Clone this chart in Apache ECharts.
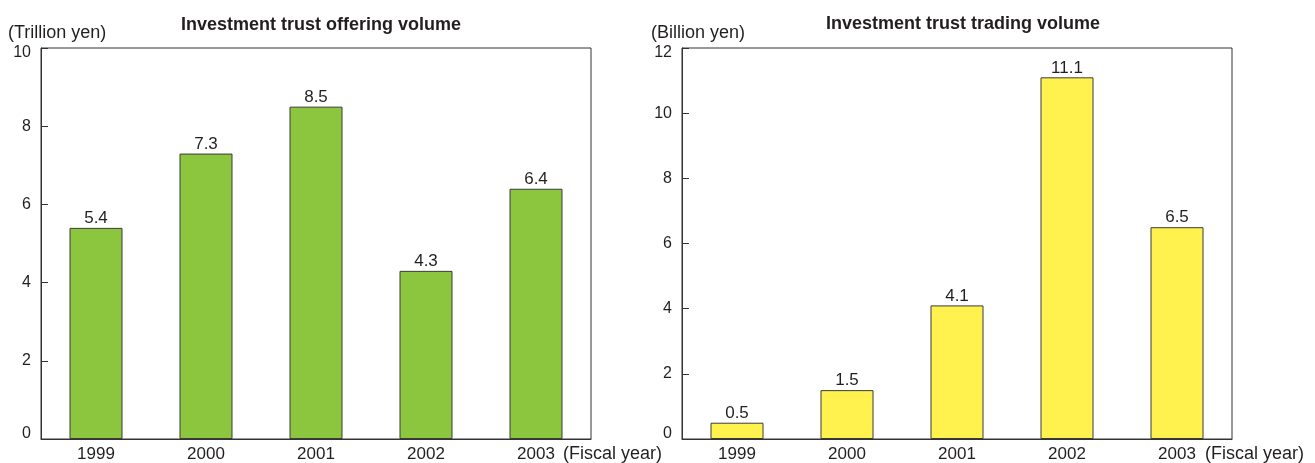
<!DOCTYPE html>
<html>
<head>
<meta charset="utf-8">
<script src="https://cdn.jsdelivr.net/npm/echarts@6/dist/echarts.min.js"></script>
<style>
  html, body { margin: 0; padding: 0; background: #fff; }
  #chart { width: 1315px; height: 463px; }
</style>
</head>
<body>
<div id="chart"></div>
<script>
// Fiscal years shown on both panels
const years = ['1999', '2000', '2001', '2002', '2003'];
// Offering volume, trillion yen
const offeringVolume = [5.4, 7.3, 8.5, 4.3, 6.4];
// Trading volume, billion yen
const tradingVolume = [0.5, 1.5, 4.1, 11.1, 6.5];

const FONT = '"Liberation Sans", Arial, sans-serif';
const TEXT = '#231f20';
const LINE = '#333';

function catAxis(gridIndex) {
  return {
    type: 'category', gridIndex, data: years,
    axisLine: { lineStyle: { color: LINE, width: 1 } },
    axisTick: { show: false },
    axisLabel: { color: TEXT, fontSize: 17, fontFamily: FONT, margin: 7 }
  };
}
function valAxis(gridIndex, max, interval) {
  const base = { color: TEXT, fontSize: 16, fontFamily: FONT };
  return {
    type: 'value', gridIndex, min: 0, max, interval,
    axisLine: { show: true, lineStyle: { color: LINE, width: 1 } },
    axisTick: { show: true, inside: true, length: 7, lineStyle: { color: LINE } },
    splitLine: { show: false },
    axisLabel: {
      color: TEXT, fontSize: 16, fontFamily: FONT, margin: 10,
      // nudge the end labels inward so they sit inside the frame corners
      formatter: v => v === max ? '{hi|' + v + '}' : v === 0 ? '{lo|' + v + '}' : String(v),
      rich: {
        hi: Object.assign({ padding: [10, 0, 0, 0] }, base),
        lo: Object.assign({ padding: [0, 0, 10, 0] }, base)
      }
    }
  };
}
function barSeries(idx, data, color) {
  return {
    type: 'bar', xAxisIndex: idx, yAxisIndex: idx, data,
    barWidth: 53,
    itemStyle: { color, borderColor: '#3a3a3a', borderWidth: 1 },
    label: {
      show: true, position: 'top', distance: 1,
      color: TEXT, fontSize: 17, fontFamily: FONT,
      formatter: p => p.value.toFixed(1)
    },
    silent: true
  };
}
function txt(left, top, text) {
  return {
    type: 'text', left, top,
    style: { text, fill: TEXT, font: '18px ' + FONT }
  };
}

const chart = echarts.init(document.getElementById('chart'), null, { renderer: 'canvas' });
chart.setOption({
  animation: false,
  title: [
    { text: 'Investment trust offering volume', left: 316, top: 11, textAlign: 'center',
      textStyle: { fontSize: 18, fontWeight: 'bold', color: TEXT, fontFamily: FONT } },
    { text: 'Investment trust trading volume', left: 958, top: 10, textAlign: 'center',
      textStyle: { fontSize: 18, fontWeight: 'bold', color: TEXT, fontFamily: FONT } }
  ],
  grid: [
    { left: 41, top: 48, width: 550, height: 391, show: true, borderColor: LINE, borderWidth: 1 },
    { left: 682, top: 48, width: 550, height: 391, show: true, borderColor: LINE, borderWidth: 1 }
  ],
  xAxis: [catAxis(0), catAxis(1)],
  yAxis: [valAxis(0, 10, 2), valAxis(1, 12, 2)],
  series: [
    barSeries(0, offeringVolume, '#8cc63f'),
    barSeries(1, tradingVolume, '#fff24f')
  ],
  graphic: [
    txt(8, 24, '(Trillion yen)'),
    txt(651, 24, '(Billion yen)'),
    txt(563, 445, '(Fiscal year)'),
    txt(1205, 445, '(Fiscal year)')
  ]
});
</script>
</body>
</html>
